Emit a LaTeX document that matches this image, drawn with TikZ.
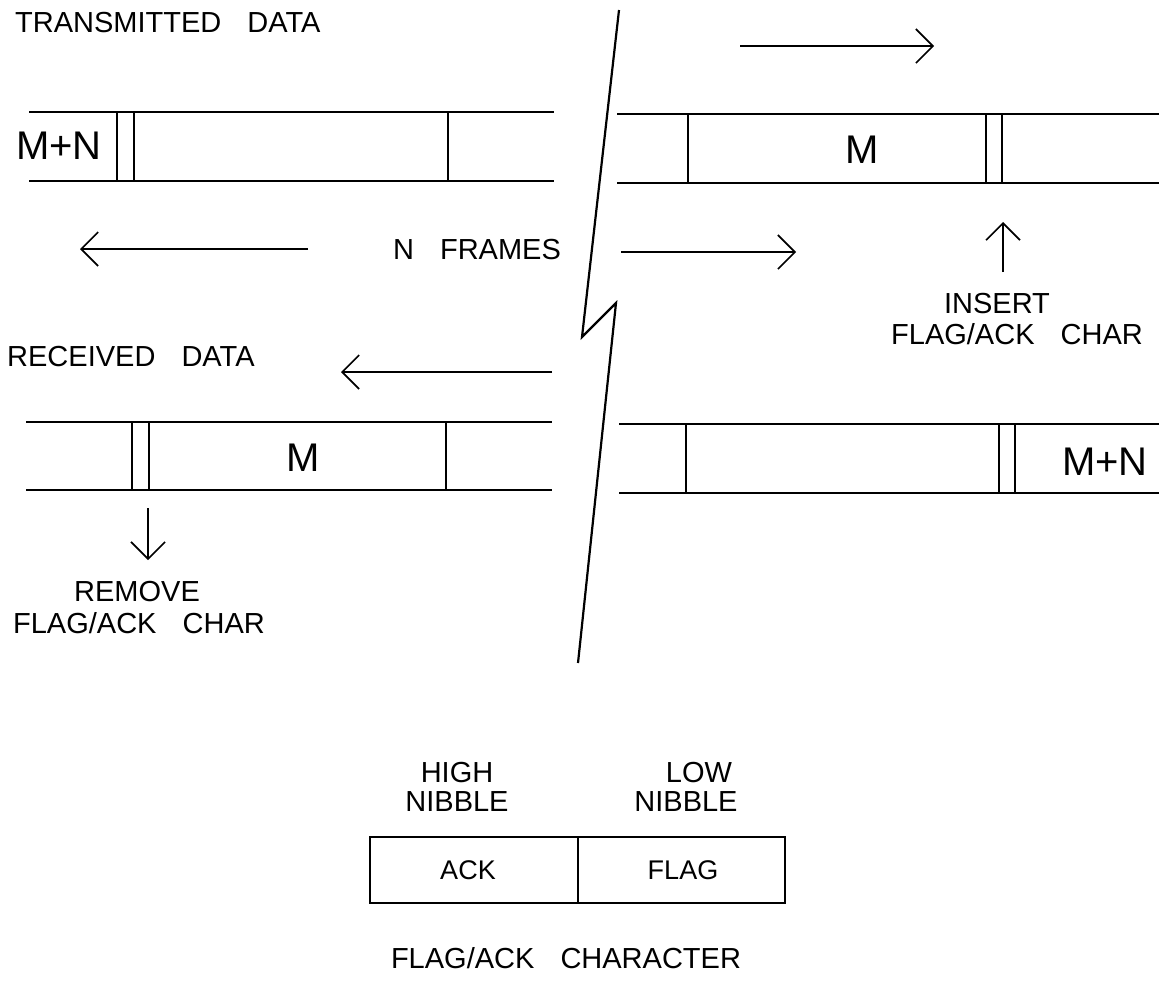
\documentclass[tikz,border=0pt]{standalone}
\usepackage{fontspec}
\setmainfont{Liberation Sans}
\usetikzlibrary{arrows.meta}
\newcommand{\wg}{\hspace{0.9em}}
\begin{document}
\begin{tikzpicture}[x=1pt,y=-1pt,
  lbl/.style={inner sep=0pt,font=\fontsize{29}{33}\selectfont},
  big/.style={inner sep=0pt,font=\fontsize{40}{44}\selectfont},
  boxlbl/.style={inner sep=0pt,font=\fontsize{27}{31}\selectfont},
  band/.style={line width=2pt},
  tick/.style={line width=1.6pt},
  arr/.style={line width=1.6pt,-{Straight Barb[length=17pt,width=34pt,line width=1.6pt]}},
  brk/.style={line width=2.2pt,line join=miter}]
\useasboundingbox (0,0) rectangle (1159,997);
% ---------- texts ----------
\node[lbl,anchor=west] (tx) at (15,23) {TRANSMITTED\wg DATA};
\node[lbl] (nf) at (477,250) {N\wg FRAMES};
\node[lbl,anchor=west] (rx) at (7,357) {RECEIVED\wg DATA};
\node[lbl] (ins) at (997,304) {INSERT};
\node[lbl] (ins2) at (1017,334) {FLAG/ACK\wg CHAR};
\node[lbl] (rem) at (137,592) {REMOVE};
\node[lbl] (rem2) at (139,623) {FLAG/ACK\wg CHAR};
\node[lbl] (hi) at (457,773) {HIGH};
\node[lbl] (hin) at (457,802) {NIBBLE};
\node[lbl] (lo) at (699,773) {LOW};
\node[lbl] (lon) at (686,802) {NIBBLE};
\node[lbl] (cap) at (566,958) {FLAG/ACK\wg CHARACTER};
% ---------- top-left band ----------
\draw[band] (29,112) -- (554,112);
\draw[band] (29,181) -- (554,181);
\draw[tick] (117,112) -- (117,181);
\draw[tick] (134,112) -- (134,181);
\draw[tick] (448,112) -- (448,181);
\node[big] (mn1) at (59,146) {M+N};
% ---------- top-right band ----------
\draw[band] (617,114) -- (1159,114);
\draw[band] (617,183) -- (1159,183);
\draw[tick] (688,114) -- (688,183);
\draw[tick] (986,114) -- (986,183);
\draw[tick] (1002,114) -- (1002,183);
\node[big] (m1) at (862,150) {M};
% ---------- bottom-left band ----------
\draw[band] (26,422) -- (552,422);
\draw[band] (26,490) -- (552,490);
\draw[tick] (132,422) -- (132,490);
\draw[tick] (149,422) -- (149,490);
\draw[tick] (446,422) -- (446,490);
\node[big] (m2) at (303,458) {M};
% ---------- bottom-right band ----------
\draw[band] (619,424) -- (1159,424);
\draw[band] (619,493) -- (1159,493);
\draw[tick] (686,424) -- (686,493);
\draw[tick] (999,424) -- (999,493);
\draw[tick] (1015,424) -- (1015,493);
\node[big] (mn2) at (1105,462) {M+N};
% ---------- arrows ----------
\coordinate (a1s) at (740,46);  \coordinate (a1e) at (934,46);
\coordinate (a2s) at (308,249); \coordinate (a2e) at (80,249);
\coordinate (a3s) at (621,252); \coordinate (a3e) at (796,252);
\coordinate (a4s) at (1003,272);\coordinate (a4e) at (1003,222);
\coordinate (a5s) at (552,372); \coordinate (a5e) at (341,372);
\coordinate (a6s) at (148,508); \coordinate (a6e) at (148,560);
\draw[arr] (a1s) -- (a1e);
\draw[arr] (a2s) -- (a2e);
\draw[arr] (a3s) -- (a3e);
\draw[arr] (a4s) -- (a4e);
\draw[arr] (a5s) -- (a5e);
\draw[arr] (a6s) -- (a6e);
% ---------- break line ----------
\coordinate (b1) at (619,10);
\coordinate (b2) at (582,337);
\coordinate (b3) at (616,303);
\coordinate (b4) at (578,663);
\draw[brk] (b1) -- (b2) -- (b3) -- (b4);
% ---------- flag/ack character box ----------
\draw[band] (370,837) rectangle (785,903);
\draw[band] (578,837) -- (578,903);
\node[boxlbl] (ack) at (468,870) {ACK};
\node[boxlbl] (flag) at (683,870) {FLAG};
\end{tikzpicture}
\end{document}
